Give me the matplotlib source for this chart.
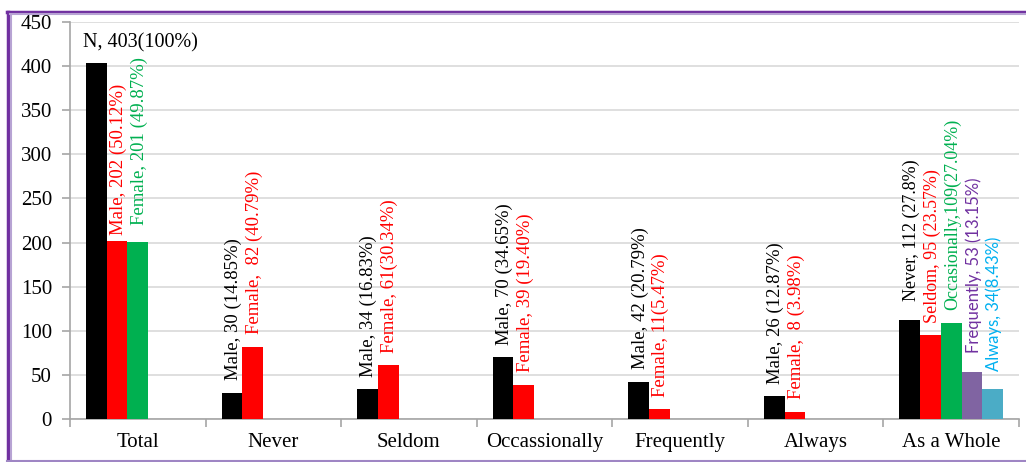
import matplotlib.pyplot as plt
import numpy as np
from matplotlib.lines import Line2D

plt.rcParams['font.family'] = ['Liberation Serif', 'DejaVu Serif']

# datos
categorias = ['Total', 'Never', 'Seldom', 'Occassionally', 'Frequently', 'Always', 'As a Whole']
serie1 = [403, 30, 34, 70, 42, 26, 112]
serie2 = [202, 82, 61, 39, 11, 8, 95]
serie3 = [201, np.nan, np.nan, np.nan, np.nan, np.nan, 109]
serie4 = [np.nan] * 6 + [53]
serie5 = [np.nan] * 6 + [34]

etiq1 = ['N, 403(100%)', 'Male, 30 (14.85%)', 'Male, 34 (16.83%)', 'Male, 70 (34.65%)',
         'Male, 42 (20.79%)', 'Male, 26 (12.87%)', 'Never, 112 (27.8%)']
etiq2 = ['Male, 202 (50.12%)', 'Female,  82 (40.79%)', 'Female, 61(30.34%)', 'Female, 39 (19.40%)',
         'Female, 11(5.47%)', 'Female,  8 (3.98%)', 'Seldom, 95 (23.57%)']
etiq3 = ['Female, 201 (49.87%)', '', '', '', '', '', 'Occasionally,109(27.04%)']
etiq4 = [''] * 6 + ['Frequently, 53 (13.15%)']
etiq5 = [''] * 6 + ['Always, 34(8.43%)']

colores_barras = ['#000000', '#FF0000', '#00B050', '#8064A2', '#4BACC6']
colores_etiq = ['#000000', '#FF0000', '#00B050', '#7030A0', '#00B0F0']

# desplazamientos de etiquetas (puntos) sobre la barra
desp = {(1, 0): 4, (2, 0): 12, (0, 6): 14, (3, 6): 14, (4, 6): 13}

fig = plt.figure(figsize=(10.26, 4.62), dpi=100)
ax = fig.add_axes([70 / 1026, 43 / 462, 949 / 1026, 397 / 462])

series = [serie1, serie2, serie3, serie4, serie5]
etiquetas = [etiq1, etiq2, etiq3, etiq4, etiq5]
x = np.arange(len(categorias))
ancho = 0.153

for j, (vals, etqs) in enumerate(zip(series, etiquetas)):
    pos = x + (j - 2) * ancho
    ax.bar(pos, vals, width=ancho, color=colores_barras[j], zorder=3)
    for i, (p, v, t) in enumerate(zip(pos, vals, etqs)):
        if not t or np.isnan(v):
            continue
        if i == 0 and j == 0:
            ax.annotate(t, xy=(p - ancho / 2, v), xytext=(-2, 8), textcoords='offset points',
                        ha='left', va='bottom', fontsize=14.5, color=colores_etiq[j])
            continue
        off = desp.get((j, i), 9)
        tam = 13.5
        fam = None
        if i == 6:
            tam = 13
            if j >= 3:
                # estas dos etiquetas van en letra sin serifa
                fam = ['Lato', 'DejaVu Sans']
                tam = 12
        ax.annotate(t, xy=(p, v), xytext=(1, off), textcoords='offset points',
                    ha='center', va='bottom', rotation=90, fontsize=tam,
                    color=colores_etiq[j], family=fam)

ax.set_xlim(-0.5, len(categorias) - 0.5)
ax.set_ylim(0, 450)
ax.set_yticks(np.arange(0, 451, 50))
ax.yaxis.grid(True, color='#D9D9D9', linewidth=1.2, zorder=0)
ax.set_axisbelow(True)

ax.set_xticks(x)
ax.set_xticklabels(categorias, fontsize=15)
ax.set_xticks(np.arange(-0.5, len(categorias)), minor=True)
ax.tick_params(axis='x', which='major', length=0, pad=10)
ax.tick_params(axis='x', which='minor', length=6, color='#A6A6A6', width=1.2)
ax.tick_params(axis='y', length=6, color='#A6A6A6', width=1.2, labelsize=15, pad=7)

for s in ['top', 'right']:
    ax.spines[s].set_visible(False)
for s in ['left', 'bottom']:
    ax.spines[s].set_color('#A6A6A6')
    ax.spines[s].set_linewidth(1.2)

# marco morado
fig.add_artist(Line2D([8 / 1026, 8 / 1026], [1 - 12 / 462, 1 / 462], transform=fig.transFigure,
                      color='#7030A0', linewidth=2.5))
fig.add_artist(Line2D([11 / 1026, 11 / 1026], [1 - 14 / 462, 2 / 462], transform=fig.transFigure,
                      color='#B7A3D3', linewidth=1.5))
fig.add_artist(Line2D([7 / 1026, 1], [1 - 11.5 / 462, 1 - 11.5 / 462], transform=fig.transFigure,
                      color='#7030A0', linewidth=2.5))
fig.add_artist(Line2D([10 / 1026, 1], [1 - 14 / 462, 1 - 14 / 462], transform=fig.transFigure,
                      color='#B7A3D3', linewidth=1.5))
fig.add_artist(Line2D([7 / 1026, 1], [1.5 / 462, 1.5 / 462], transform=fig.transFigure,
                      color='#9F86C4', linewidth=1.5))

plt.savefig('out.png', dpi=100)
plt.close()
